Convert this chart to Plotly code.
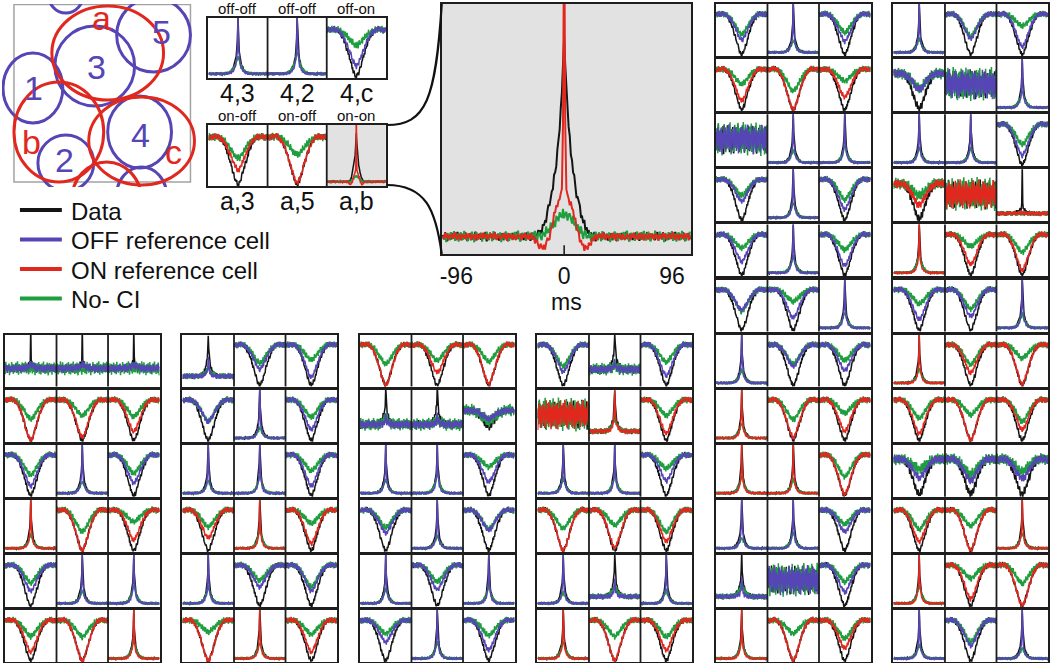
import plotly.graph_objects as go

W, H = 1050, 663
FONT = "Liberation Sans, Arial, Helvetica, sans-serif"
C_DATA = "#141414"
C_OFF = "#5545b5"
C_ON = "#e1281e"
C_NOCI = "#1e9e3e"
GRAY_BG = "#e2e2e2"

# ------------------------------------------------------------------ data
# lag axis of the small cross-correlograms (ms)
T_SMALL = list(range(-96, 97, 2))
# half profiles (lag 0, 2, 4 ... 96 ms)
PEAK_HALF = [1.0, 0.6, 0.42, 0.32, 0.25, 0.2, 0.16, 0.13, 0.105, 0.085, 0.068, 0.054, 0.043,
             0.034, 0.027, 0.021, 0.016, 0.012, 0.009, 0.007, 0.005, 0.004, 0.003, 0.002, 0.001] + [0] * 24
REFPEAK_HALF = [1.0, 0.45, 0.28, 0.2, 0.15, 0.115, 0.09, 0.07, 0.055, 0.043, 0.033, 0.025, 0.019,
                0.014, 0.01, 0.007, 0.005, 0.003, 0.002, 0.001] + [0] * 29
NOCI_PEAK_HALF = [1.0, 0.86, 0.74, 0.63, 0.53, 0.45, 0.38, 0.32, 0.27, 0.22, 0.18, 0.145, 0.115,
                  0.09, 0.07, 0.054, 0.041, 0.031, 0.023, 0.017, 0.012, 0.008, 0.005, 0.003, 0.001] + [0] * 24
TROUGH_HALF = [1.0, 0.985, 0.965, 0.94, 0.905, 0.87, 0.83, 0.785, 0.74, 0.695, 0.65, 0.6, 0.555,
               0.51, 0.465, 0.42, 0.38, 0.34, 0.3, 0.265, 0.23, 0.2, 0.17, 0.145, 0.12, 0.097,
               0.077, 0.058, 0.042, 0.028, 0.015, 0.004, -0.005, -0.012, -0.017, -0.02, -0.021,
               -0.02, -0.017, -0.014, -0.011, -0.008, -0.006, -0.004, -0.002, -0.001, 0, 0, 0]
SPIKE_HALF = [1.0, 0.08, 0.03, 0.01] + [0] * 45

# sample-to-sample fluctuation
NOISE_A = [0.31, -0.52, 0.84, -0.18, -0.93, 0.42, 0.07, -0.61, 0.73, -0.27,
           0.55, -0.79, 0.16, 0.91, -0.44, -0.08, 0.63, -0.71, 0.29, -0.22,
           0.81, -0.49, -0.88, 0.38, 0.12, 0.69, -0.58, 0.24, -0.33, 0.95,
           -0.76, 0.47, -0.13, 0.35, -0.67, 0.58, -0.41, 0.19, 0.86, -0.97,
           0.05, -0.53, 0.74, -0.24, 0.44, -0.62, 0.89, -0.31, 0.02, 0.51,
           -0.83, 0.27, -0.09, 0.64, -0.72, 0.21, 0.78, -0.39, -0.91, 0.49,
           0.14, -0.34, 0.71, -0.57, 0.41, -0.19, 0.93, -0.47, 0.23, -0.81,
           0.61, 0.32, -0.69, 0.11, -0.43, 0.82, -0.06, 0.53, -0.87, 0.18,
           0.76, -0.29, -0.63, 0.37, 0.01, 0.88, -0.51, 0.26, -0.78, 0.59,
           -0.21, 0.09, -0.73, 0.46, 0.85, -0.38, 0.17]
NOISE_B = [-0.44, 0.67, -0.12, 0.29, -0.85, 0.53, -0.31, 0.92, -0.06, -0.58,
           0.36, -0.74, 0.81, 0.15, -0.49, 0.62, -0.93, 0.22, 0.47, -0.27,
           -0.66, 0.78, 0.04, -0.39, 0.55, -0.82, 0.33, 0.69, -0.17, -0.95,
           0.41, 0.13, -0.61, 0.87, -0.23, 0.58, -0.71, 0.26, -0.08, 0.74,
           -0.52, 0.19, 0.96, -0.35, -0.68, 0.45, 0.11, -0.89, 0.63, -0.14,
           0.28, -0.57, 0.83, -0.42, 0.07, 0.71, -0.76, 0.34, -0.26, 0.52,
           -0.91, 0.39, 0.16, -0.63, 0.77, -0.05, -0.48, 0.89, -0.33, 0.21,
           0.57, -0.79, 0.43, -0.11, 0.68, -0.54, 0.24, 0.94, -0.37, -0.72,
           0.49, 0.08, -0.65, 0.32, -0.21, 0.84, -0.46, 0.61, -0.98, 0.18,
           0.72, -0.28, 0.37, -0.84, 0.55, 0.03, -0.59]
NOISE_C = [0.62, -0.27, -0.81, 0.45, 0.13, -0.56, 0.97, -0.34, 0.21, -0.69,
           0.83, -0.08, -0.47, 0.38, -0.92, 0.56, 0.24, -0.63, 0.71, -0.15,
           -0.39, 0.88, -0.72, 0.09, 0.49, -0.84, 0.33, 0.67, -0.26, -0.58,
           0.94, -0.41, 0.17, -0.77, 0.52, 0.28, -0.66, 0.81, -0.12, -0.95,
           0.36, 0.73, -0.53, 0.06, -0.31, 0.65, -0.87, 0.42, 0.19, -0.48,
           0.79, -0.22, -0.64, 0.57, 0.11, -0.79, 0.91, -0.36, 0.25, -0.58,
           0.46, -0.14, 0.68, -0.93, 0.31, 0.04, -0.52, 0.86, -0.29, 0.61,
           -0.74, 0.18, 0.53, -0.45, -0.07, 0.77, -0.61, 0.39, 0.96, -0.33,
           -0.86, 0.27, 0.59, -0.18, 0.44, -0.71, 0.12, 0.82, -0.49, -0.24,
           0.69, -0.57, 0.35, 0.92, -0.11, -0.67, 0.48]

# per-panel variation of reference-cell and No-CI amplitudes
REF_LEVEL = [1.0, 0.85, 1.15, 0.75, 1.05, 0.9, 1.2, 0.8, 0.95, 1.1]
NOCI_LEVEL = [1.0, 1.2, 0.8, 1.1, 0.9, 1.3, 0.7, 1.05, 0.85, 1.15, 0.95]

# correlogram classes: baseline, amplitudes (data / OFF ref / ON ref / No-CI), noise levels
CLASSES = {
    'T': dict(shape='trough', base=0.80, k=0.78, cB=0.52, cR=0.72, g=0.32, nk=0.055, nc=0.06, ng=0.07),
    'U': dict(shape='trough', base=0.72, k=0.68, cB=0.38, cR=0.55, g=0.28, nk=0.09, nc=0.09, ng=0.12),
    't': dict(shape='trough', base=0.60, k=0.32, cB=0.2, cR=0.2, g=0.18, nk=0.08, nc=0.08, ng=0.13),
    'P': dict(shape='peak', base=0.07, k=0.95, cB=0.95, cR=0.95, g=0.3, nk=0.025, nc=0.025, ng=0.03),
    'W': dict(shape='peak', base=0.20, k=0.82, cB=0.35, cR=0.8, g=0.22, nk=0.055, nc=0.055, ng=0.065),
    'V': dict(shape='peak', base=0.33, k=0.7, cB=0.22, cR=0.22, g=0.12, nk=0.09, nc=0.09, ng=0.13),
    'N': dict(shape='flat', base=0.52, k=0.0, cB=0.0, cR=0.0, g=0.0, nk=0.3, nc=0.3, ng=0.34),
    'S': dict(shape='spike', base=0.35, k=0.65, cB=0.08, cR=0.08, g=0.0, nk=0.08, nc=0.09, ng=0.14),
    'L': dict(shape='spike', base=0.15, k=0.85, cB=0.02, cR=0.02, g=0.0, nk=0.05, nc=0.05, ng=0.05),
}

# panel codes: first letter reference cell (B = OFF, R = ON), second letter class
TOP_ROWS = ["BP BP BT", "RT RT RX"]
TOP_TITLES = [["off-off", "off-off", "off-on"], ["on-off", "on-off", "on-on"]]
TOP_PAIRS = [["4,3", "4,2", "4,c"], ["a,3", "a,5", "a,b"]]
G1_ROWS = ["BS BS BS", "RT RT RT", "BT BP BT", "RP RT RT", "BT BP BP", "RT RT RP"]
G2_ROWS = ["BW BT BT", "BT BP BT", "BP BP BT", "RT RP RT", "BP BT BT", "RT RP RT"]
G3_ROWS = ["RT RT RT", "BV BV Bt", "BP BP BT", "BT BP BT", "BP BT BP", "BT BP BT"]
G4_ROWS = ["BT BV BT", "RN RW RT", "BP BP BT", "RT RT RT", "BP BW BP", "RP RT RT"]
R1_ROWS = ["BT BP BT", "RT RT RT", "BN BP BP", "BT BP BT", "BT BP BT", "BT BT BP",
           "BP BT BT", "RP RT RT", "RP RP RT", "BP BP BT", "BW BN BT", "RP RT RT"]
R2_ROWS = ["BP BT BT", "BU BN BP", "BP BP BT", "RU RN RL", "RP RT RT", "BT BT BP",
           "RP RT RT", "RT RT RT", "BU BU BU", "RT RT RP", "RP RT RT", "BP BT BP"]

# enlarged a,b correlogram (lag -108 ... 112 ms, half profiles for lag 0..30 ms)
T_BIG = list(range(-108, 113))
BIG_BASE = 0.07
BIG_DATA_HALF = [0.81, 0.68, 0.58, 0.5, 0.44, 0.39, 0.34, 0.3, 0.26, 0.23, 0.2, 0.175, 0.15, 0.13,
                 0.11, 0.09, 0.075, 0.06, 0.048, 0.037, 0.028, 0.02, 0.014, 0.009, 0.005, 0.002,
                 0, 0, 0, 0, 0]
BIG_ON_HALF = [1.3, 0.45, 0.2, 0.16, 0.15, 0.14, 0.13, 0.115, 0.1, 0.08, 0.06, 0.04, 0.02, 0.005,
               -0.01, -0.02, -0.03, -0.038, -0.042, -0.045, -0.045, -0.042, -0.038, -0.032,
               -0.025, -0.018, -0.012, -0.007, -0.003, -0.001, 0]
BIG_NOCI_HALF = [0.09, 0.089, 0.087, 0.084, 0.08, 0.076, 0.071, 0.066, 0.06, 0.054, 0.048, 0.042,
                 0.036, 0.031, 0.026, 0.021, 0.017, 0.013, 0.01, 0.007, 0.005, 0.003, 0.002,
                 0.001, 0, 0, 0, 0, 0, 0, 0]
BIG_NOISE = dict(k=0.02, c=0.017, g=0.024)

# receptive-field outlines (diagram units)
RF_LABEL = ["1", "3", "5", "4", "2", "", "", "a", "b", "c", ""]
RF_KIND = ["off", "off", "off", "off", "off", "off", "off", "on", "on", "on", "on"]
RF_CX = [31, 93, 152, 138, 64, 64, 140, 106, 57, 140, 105]
RF_CY = [88, 66, 35, 132, 163, -7, 195, 53, 132, 141, 200]
RF_RX = [30, 40, 37, 32, 28, 18, 25, 56, 45, 53, 35]
RF_RY = [35, 40, 37, 36, 28, 20, 28, 47, 50, 44, 38]
RF_LX = [32, 95, 160, 139, 63, 0, 0, 100, 30, 172, 0]
RF_LY = [88, 67, 32, 135, 160, 0, 0, 18, 142, 152, 0]

LEGEND_NAMES = ["Data", "OFF reference cell", "ON reference cell", "No- CI"]


def mirror(half):
    return half[:0:-1] + half


PEAK = mirror(PEAK_HALF)
REFPEAK = mirror(REFPEAK_HALF)
NOCI_PEAK = mirror(NOCI_PEAK_HALF)
TROUGH = mirror(TROUGH_HALF)
SPIKE = mirror(SPIKE_HALF)


def big_profile(half, t):
    d = abs(t)
    return half[d] if d < len(half) else 0.0


def big_series():
    k = [BIG_BASE + big_profile(BIG_DATA_HALF, t) + BIG_NOISE['k'] * NOISE_A[i % len(NOISE_A)]
         for i, t in enumerate(T_BIG)]
    c = [BIG_BASE + big_profile(BIG_ON_HALF, t) + BIG_NOISE['c'] * NOISE_B[(i + 31) % len(NOISE_B)]
         for i, t in enumerate(T_BIG)]
    g = [BIG_BASE + big_profile(BIG_NOCI_HALF, t) + BIG_NOISE['g'] * NOISE_C[(i + 11) % len(NOISE_C)]
         for i, t in enumerate(T_BIG)]
    return k, c, g


# ------------------------------------------------------------------ figure construction
layout_axes = {}
shapes = []
annotations = []
traces = []
n_axes = [0]
panel_no = [0]


def px_x(x):
    return x / W


def px_y(y):
    return 1 - y / H


def new_axis(left, top, width, height, xr, yr, border=True):
    n_axes[0] += 1
    n = n_axes[0]
    s = '' if n == 1 else str(n)
    common = dict(showgrid=False, zeroline=False, showticklabels=False, ticks='', fixedrange=True,
                  showline=border, mirror=border, linecolor='#1e1e1e', linewidth=2)
    layout_axes['xaxis' + s] = dict(domain=[px_x(left), px_x(left + width)], range=xr, anchor='y' + s, **common)
    layout_axes['yaxis' + s] = dict(domain=[px_y(top + height), px_y(top)], range=yr, anchor='x' + s, **common)
    return 'x' + s, 'y' + s


PANEL_SPAN = 194  # ms width of a small panel


def panel_series(code):
    ref, cls = code[0], code[1]
    n = panel_no[0]
    panel_no[0] += 1
    colour = C_OFF if ref == 'B' else C_ON
    if cls == 'X':
        k, c, g = big_series()
        keep = [i for i, t in enumerate(T_BIG) if -96 <= t <= 96]
        ts = [T_BIG[i] for i in keep]
        return ts, [k[i] for i in keep], [c[i] for i in keep], [g[i] for i in keep], colour
    p = CLASSES[cls]
    ac = p['cB'] if ref == 'B' else p['cR']
    rv = REF_LEVEL[n % len(REF_LEVEL)]
    gv = NOCI_LEVEL[n % len(NOCI_LEVEL)]
    oa, ob, oc = (n * 13) % 97, (n * 29 + 7) % 97, (n * 41 + 3) % 97
    k, c, g = [], [], []
    for i, t in enumerate(T_SMALL):
        na = NOISE_A[(i + oa) % len(NOISE_A)]
        nb = NOISE_B[(i + ob) % len(NOISE_B)]
        nc = NOISE_C[(i + oc) % len(NOISE_C)]
        b = p['base']
        if p['shape'] == 'trough':
            cl = min(rv, 1.08) if ref == 'R' else rv
            k.append(b - p['k'] * TROUGH[i] + p['nk'] * na)
            c.append(b - ac * cl * TROUGH[i] + p['nc'] * nb)
            g.append(b - p['g'] * gv * TROUGH[i] + p['ng'] * nc)
        elif p['shape'] == 'peak':
            k.append(b + p['k'] * PEAK[i] + p['nk'] * na)
            c.append(b + ac * REFPEAK[i] + p['nc'] * nb)
            g.append(b + p['g'] * gv * NOCI_PEAK[i] + p['ng'] * nc)
        elif p['shape'] == 'spike':
            k.append(b + p['k'] * SPIKE[i] + 0.12 * NOCI_PEAK[i] + p['nk'] * na)
            c.append(b + ac * NOCI_PEAK[i] + p['nc'] * nb)
            g.append(b + p['ng'] * nc)
        else:
            k.append(b + p['nk'] * na)
            c.append(b + p['nc'] * nb)
            g.append(b + p['ng'] * nc)
    return T_SMALL, k, c, g, colour


def add_row(left, top, width, height, codes, gray_last=False):
    xa, ya = new_axis(left, top, width, height, [-PANEL_SPAN / 2, PANEL_SPAN * 2.5], [0, 1])
    yd = ya + ' domain'
    if gray_last:
        shapes.append(dict(type='rect', xref=xa, yref=yd, x0=PANEL_SPAN * 1.5, x1=PANEL_SPAN * 2.5,
                           y0=0, y1=1, fillcolor=GRAY_BG, line=dict(width=0), layer='below'))
    for j in (1, 2):
        xb = -PANEL_SPAN / 2 + PANEL_SPAN * j
        shapes.append(dict(type='line', xref=xa, yref=yd, x0=xb, x1=xb, y0=0, y1=1,
                           line=dict(color='#1e1e1e', width=1.8), layer='above'))
    series = {'k': ([], []), 'g': ([], []), C_OFF: ([], []), C_ON: ([], [])}
    for j, code in enumerate(codes.split()):
        ts, k, c, g, colour = panel_series(code)
        xs = [t + PANEL_SPAN * j for t in ts]
        for key, ys in (('k', k), ('g', g), (colour, c)):
            series[key][0].extend(xs + [None])
            series[key][1].extend(ys + [None])
    for key, col in (('k', C_DATA), ('g', C_NOCI), (C_OFF, C_OFF), (C_ON, C_ON)):
        xs, ys = series[key]
        if not xs:
            continue
        traces.append(go.Scatter(x=xs, y=ys, mode='lines', xaxis=xa, yaxis=ya, showlegend=False,
                                 hoverinfo='skip', line=dict(color=col, width=1.5)))


# ---- receptive-field diagram
dx, dy = new_axis(0, 4, 200, 183, [0, 200], [187, 4], border=False)
shapes.append(dict(type='rect', xref=dx, yref=dy, x0=12, x1=189, y0=4.5, y1=182,
                   line=dict(color='#a3a3a3', width=1.5), layer='below'))
for cx, cy, rx, ry, kind, lab, lx, ly in zip(RF_CX, RF_CY, RF_RX, RF_RY, RF_KIND, RF_LABEL, RF_LX, RF_LY):
    col = C_OFF if kind == 'off' else C_ON
    shapes.append(dict(type='circle', xref=dx, yref=dy, x0=cx - rx, x1=cx + rx, y0=cy - ry, y1=cy + ry,
                       line=dict(color=col, width=3), layer='above'))
    if lab:
        annotations.append(dict(x=lx, y=ly, xref=dx, yref=dy, text=lab, showarrow=False,
                                xanchor='center', yanchor='middle',
                                font=dict(size=34, color=col, family=FONT)))

# ---- key (swatch + label)
LEGEND_ROW_Y = [210, 239.5, 269, 298.5]
for name, col, yk in zip(LEGEND_NAMES, [C_DATA, C_OFF, C_ON, C_NOCI], LEGEND_ROW_Y):
    shapes.append(dict(type='line', xref='paper', yref='paper', x0=px_x(18), x1=px_x(60),
                       y0=px_y(yk), y1=px_y(yk), line=dict(color=col, width=4)))
    annotations.append(dict(x=px_x(67), y=px_y(yk + 1), xref='paper', yref='paper', text=name,
                            showarrow=False, xanchor='left', yanchor='middle',
                            font=dict(size=24, color='#111', family=FONT)))

# ---- six labelled example panels
TOP_POS = [(207, 18, 60), (207, 125, 61)]
for r, (codes, (left, top, h)) in enumerate(zip(TOP_ROWS, TOP_POS)):
    add_row(left, top, 178, h, codes, gray_last=(r == 1))
    for j in range(3):
        cxp = left + 178 / 6 * (2 * j + 1)
        annotations.append(dict(x=px_x(cxp), y=px_y(top - 9.5), xref='paper', yref='paper',
                                xanchor='center', yanchor='middle',
                                text=TOP_TITLES[r][j], showarrow=False,
                                font=dict(size=15, color='#111', family=FONT)))
        annotations.append(dict(x=px_x(cxp), y=px_y(top + h + 15), xref='paper', yref='paper',
                                xanchor='center', yanchor='middle',
                                text=TOP_PAIRS[r][j], showarrow=False,
                                font=dict(size=25, color='#111', family=FONT)))

# ---- enlarged on-on correlogram
bx, by = new_axis(441, 4, 250, 250, [-109, 113], [0, 1])
layout_axes['xaxis' + bx[1:]].update(showticklabels=True, tickvals=[-96, 0, 96], ticktext=['-96', '0', '96'],
                                     ticks='', tickfont=dict(size=23, family=FONT, color='#111'),
                                     title=dict(text='ms', font=dict(size=23, family=FONT, color='#111'),
                                                standoff=0))
shapes.append(dict(type='rect', xref=bx + ' domain', yref=by + ' domain', x0=0, x1=1, y0=0, y1=1,
                   fillcolor=GRAY_BG, line=dict(width=0), layer='below'))
shapes.append(dict(type='line', xref=bx, yref=by + ' domain', x0=0, x1=0, y0=0, y1=0.035,
                   line=dict(color='#111', width=1.5)))
bk, bc, bg = big_series()
for ys, col in ((bk, C_DATA), (bg, C_NOCI), (bc, C_ON)):
    traces.append(go.Scatter(x=T_BIG, y=ys, mode='lines', xaxis=bx, yaxis=by, showlegend=False,
                             hoverinfo='skip', line=dict(color=col, width=2)))


def P(x, y):
    return f"{px_x(x):.5f},{px_y(y):.5f}"


shapes.append(dict(type='path', xref='paper', yref='paper', layer='above',
                   path=f"M{P(386,125)} C{P(425,125)} {P(435,100)} {P(441,4)}",
                   line=dict(color='#111', width=2.2)))
shapes.append(dict(type='path', xref='paper', yref='paper', layer='above',
                   path=f"M{P(386,185)} C{P(425,185)} {P(435,210)} {P(441,254)}",
                   line=dict(color='#111', width=2.2)))

# ---- grids of correlograms
ROW_PITCH, ROW_H, GROUP_W = 55.1, 52, 155
for left, rows, first in ((3, G1_ROWS, 6), (181, G2_ROWS, 6), (359, G3_ROWS, 6), (537, G4_ROWS, 6),
                          (716, R1_ROWS, 0), (894, R2_ROWS, 0)):
    for i, codes in enumerate(rows):
        add_row(left, 4 + ROW_PITCH * (first + i), GROUP_W, ROW_H, codes)

fig = go.Figure(data=traces)
fig.update_layout(width=W, height=H, margin=dict(l=0, r=0, t=0, b=0),
                  paper_bgcolor='white', plot_bgcolor='white', showlegend=False,
                  font=dict(family=FONT, color='#111'),
                  shapes=shapes, annotations=annotations,
                  **layout_axes)
fig.write_html("out.html", config={'displayModeBar': False, 'staticPlot': True},
               post_script="document.body.style.margin='0';document.body.style.overflow='hidden';")
